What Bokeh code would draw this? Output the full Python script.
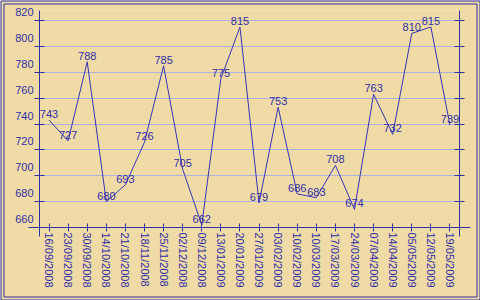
from bokeh.plotting import figure
from bokeh.models import (Range1d, FactorRange, LinearAxis, FixedTicker,
                          CustomJSTickFormatter, ColumnDataSource)
from bokeh.core.properties import value
from bokeh.embed import file_html
from bokeh.resources import INLINE

dates = ["16/09/2008", "23/09/2008", "30/09/2008", "14/10/2008", "21/10/2008",
         "18/11/2008", "25/11/2008", "02/12/2008", "09/12/2008", "13/01/2009",
         "20/01/2009", "27/01/2009", "03/02/2009", "10/02/2009", "10/03/2009",
         "17/03/2009", "24/03/2009", "07/04/2009", "14/04/2009", "05/05/2009",
         "12/05/2009", "19/05/2009"]
values = [743, 727, 788, 680, 693, 726, 785, 705, 662, 775, 815,
          679, 753, 686, 683, 708, 674, 763, 732, 810, 815, 739]
y_ticks = [660, 680, 700, 720, 740, 760, 780, 800, 820]

BLUE = "#2f2fa6"
LINE = "#3434b8"
GRID = "#adb1dd"
WOOD = "#f0dba6"
FONT = "Liberation Sans"

W, H = 480, 300
FL, FR, FT, FB = 39, 459, 10, 227          # frame edges in pixels
Y0 = 660
PX_PER_Y = 207 / 160.0
Y1 = Y0 + (FB - FT) / PX_PER_Y
LAB_SHIFT = 8.5 / PX_PER_Y
n = len(dates)
PX_PER_X = (FR - FL) / n


def px_to_x(px):
    return (px - FL) / PX_PER_X


def px_to_y(py):
    return Y0 + (FB - py) / PX_PER_Y


src = ColumnDataSource(dict(date=dates, val=values, label=[str(v) for v in values]))

p = figure(width=W, height=H, x_range=FactorRange(*dates),
           y_range=Range1d(Y0, Y1), output_backend="svg", toolbar_location=None,
           title=None, min_border_left=FL, min_border_right=W - FR,
           min_border_top=FT, min_border_bottom=H - FB)
p.background_fill_color = WOOD
p.border_fill_color = WOOD
p.outline_line_color = None

p.extra_y_ranges = {"lab": Range1d(Y0 - LAB_SHIFT, Y1 - LAB_SHIFT)}

empty = CustomJSTickFormatter(code="return ''")

# grid
p.xgrid.visible = False
p.ygrid.ticker = FixedTicker(ticks=y_ticks)
p.ygrid.grid_line_color = GRID
p.ygrid.grid_line_width = 1

# main left axis: line + ticks
ya = p.yaxis[0]
ya.ticker = FixedTicker(ticks=y_ticks)
ya.formatter = empty
ya.major_label_standoff = 0
ya.major_tick_in = 5
ya.major_tick_out = 5
ya.minor_tick_line_color = None
ya.axis_line_color = BLUE
ya.major_tick_line_color = BLUE

# label axis (shifted so labels sit above their gridlines)
la = LinearAxis(y_range_name="lab", ticker=FixedTicker(ticks=y_ticks))
la.axis_line_color = None
la.major_tick_line_color = None
la.minor_tick_line_color = None
la.major_tick_in = 0
la.major_tick_out = 0
la.major_label_standoff = 1
la.major_label_text_font = FONT
la.major_label_text_font_size = "11px"
la.major_label_text_color = BLUE
p.add_layout(la, "left")

# right axis
ra = LinearAxis(ticker=FixedTicker(ticks=y_ticks), formatter=empty)
ra.major_label_standoff = 0
ra.major_tick_in = 5
ra.major_tick_out = 5
ra.minor_tick_line_color = None
ra.axis_line_color = BLUE
ra.major_tick_line_color = BLUE
p.add_layout(ra, "right")

# bottom axis
xa = p.xaxis[0]
xa.major_label_orientation = "vertical"
xa.major_tick_in = 4
xa.major_tick_out = 4
xa.major_label_standoff = 1
xa.axis_line_color = BLUE
xa.major_tick_line_color = BLUE
xa.major_label_text_font = FONT
xa.major_label_text_font_size = "11px"
xa.major_label_text_color = BLUE

# axis extensions beyond the frame
ex_l, ex_r = px_to_x(28), px_to_x(470)
ey_b = px_to_y(236)
seg = p.segment(x0=[ex_l, n, 0, n], y0=[Y0, Y0, Y0, Y0],
                x1=[0, ex_r, 0, n], y1=[Y0, Y0, ey_b, ey_b],
                line_color=BLUE, line_width=1)
seg.level = "overlay"

# data
p.line(x="date", y="val", source=src, line_color=LINE, line_width=1)
t = p.text(x="date", y="val", text="label", source=src, text_align="center",
           text_baseline="bottom", y_offset=-2, text_font=value(FONT),
           text_font_size="11px", text_color=BLUE)
t.level = "overlay"

# double border around the image
for inset in (0.5, 3.5):
    b = p.quad(left=[px_to_x(inset)], right=[px_to_x(W - inset)],
               top=[px_to_y(inset)], bottom=[px_to_y(H - inset)],
               fill_color=None, line_color=BLUE, line_width=1)
    b.level = "overlay"

open("out.html", "w").write(file_html(p, INLINE))
